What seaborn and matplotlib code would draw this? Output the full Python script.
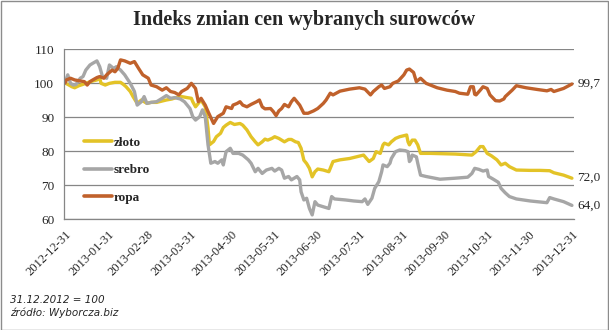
import matplotlib
matplotlib.use("Agg")
import matplotlib.pyplot as plt
import matplotlib.patches as mpatches
import numpy as np
import pandas as pd
import seaborn as sns

# Index of commodity prices, 31.12.2012 = 100 (days counted from that date)
base_date = "2012-12-31"

zloto_days = [0, 2, 5, 7, 10, 13, 17, 20, 23, 25, 26, 29, 32, 36, 40, 42, 44, 47, 49, 52,
              55, 59, 62, 66, 70, 73, 77, 80, 84, 88, 91, 92, 94, 96, 98, 101, 103, 104, 107, 109,
              112, 114, 116, 119, 122, 126, 128, 131, 134, 137, 139, 142, 144, 146, 149, 151, 154, 156, 158, 161,
              163, 166, 168, 170, 172, 174, 176, 178, 180, 182, 186, 190, 193, 198, 205, 215, 219, 222, 224, 227,
              229, 230, 233, 235, 238, 241, 246, 247, 248, 250, 252, 254, 256, 263, 281, 285, 293, 296, 299, 301,
              304, 307, 311, 314, 317, 320, 325, 335, 342, 349, 352, 359, 365]
zloto_vals = [100.0, 99.6, 98.9, 98.6, 99.2, 99.6, 100.2, 100.6, 100.9, 101.4, 99.9, 99.4, 99.9, 100.2, 100.2, 99.6, 98.9, 97.5, 96.0, 94.0,
              95.0, 94.0, 94.3, 94.3, 94.7, 95.0, 95.3, 95.7, 96.0, 95.7, 95.5, 94.5, 93.0, 94.0, 95.0, 93.0, 86.7, 81.8, 82.8, 84.2,
              85.2, 86.9, 87.6, 88.4, 87.8, 88.1, 87.6, 86.2, 84.2, 82.7, 81.8, 82.7, 83.5, 83.2, 83.7, 84.2, 83.7, 83.2, 82.7, 83.4,
              83.4, 82.7, 82.5, 80.8, 77.3, 76.3, 74.9, 72.4, 73.9, 74.7, 74.4, 73.9, 76.9, 77.4, 77.8, 78.8, 76.9, 77.8, 79.8, 79.3,
              81.8, 82.3, 81.8, 82.7, 83.7, 84.2, 84.7, 82.7, 81.8, 83.2, 83.2, 81.8, 79.3, 79.3, 79.1, 79.0, 78.8, 79.8, 81.3, 81.3,
              79.3, 78.6, 77.4, 75.9, 76.4, 75.4, 74.4, 74.3, 74.3, 74.2, 73.6, 72.9, 72.0]

srebro_days = [0, 2, 4, 6, 8, 11, 13, 15, 18, 20, 23, 25, 27, 30, 32, 35, 37, 40, 43, 47,
               50, 52, 55, 57, 59, 62, 66, 70, 73, 76, 79, 83, 86, 90, 92, 94, 97, 99, 101, 103,
               105, 108, 110, 113, 114, 116, 119, 121, 125, 128, 132, 134, 137, 139, 142, 145, 149, 151, 154, 156,
               158, 161, 163, 167, 169, 170, 172, 174, 176, 178, 180, 182, 186, 190, 192, 194, 202, 208, 214, 216,
               218, 221, 223, 226, 228, 229, 232, 234, 235, 238, 241, 245, 247, 248, 249, 250, 253, 254, 256, 260,
               270, 281, 290, 293, 295, 298, 301, 304, 305, 308, 312, 314, 317, 320, 325, 335, 347, 349, 352, 359,
               365]
srebro_vals = [100.0, 102.4, 99.9, 99.4, 99.6, 101.4, 101.9, 103.8, 105.3, 105.8, 106.5, 104.8, 101.9, 101.4, 105.3, 104.3, 104.8, 103.8, 102.4, 99.9,
               97.5, 93.5, 94.5, 96.0, 94.0, 94.3, 94.5, 95.5, 96.3, 95.5, 95.7, 95.3, 94.5, 92.5, 90.1, 89.1, 90.1, 92.1, 90.1, 81.8,
               76.4, 76.9, 76.4, 77.4, 75.9, 79.8, 80.8, 79.3, 79.3, 78.8, 77.4, 76.4, 73.9, 74.9, 73.4, 74.4, 74.9, 74.1, 74.9, 74.4,
               72.0, 72.5, 71.5, 72.5, 71.5, 68.0, 65.6, 66.1, 63.1, 61.2, 65.1, 64.1, 63.6, 63.1, 66.6, 65.9, 65.6, 65.3, 65.1, 65.9,
               64.3, 66.1, 69.0, 71.0, 73.9, 75.9, 75.4, 76.4, 77.8, 79.8, 80.3, 80.1, 79.8, 76.9, 77.4, 78.8, 78.3, 76.4, 72.9, 72.5,
               71.7, 72.0, 72.3, 73.4, 74.9, 74.6, 74.1, 74.4, 72.5, 71.8, 70.8, 69.0, 67.7, 66.6, 65.9, 65.3, 64.8, 66.3, 65.9, 65.1,
               64.0]

ropa_days = [0, 1, 4, 7, 11, 14, 16, 18, 20, 23, 25, 28, 30, 34, 36, 38, 40, 43, 47, 50,
             53, 56, 60, 62, 66, 70, 73, 76, 79, 82, 84, 88, 91, 94, 96, 98, 101, 103, 107, 110,
             114, 116, 120, 121, 124, 126, 128, 131, 134, 138, 140, 142, 144, 148, 150, 152, 154, 156, 158, 161,
             163, 165, 167, 169, 172, 175, 179, 182, 186, 188, 191, 193, 198, 205, 212, 216, 220, 222, 226, 228,
             230, 234, 236, 240, 244, 246, 248, 251, 253, 256, 260, 268, 275, 281, 284, 290, 292, 294, 295, 296,
             299, 301, 304, 306, 310, 313, 316, 317, 322, 325, 332, 340, 347, 350, 352, 359, 365]
ropa_vals = [100.0, 100.9, 101.4, 100.9, 100.6, 100.4, 99.4, 100.4, 100.9, 101.6, 101.9, 101.4, 102.4, 103.8, 103.3, 104.3, 106.8, 106.5, 105.8, 106.3,
             104.3, 102.4, 101.4, 99.4, 98.9, 97.9, 98.6, 97.5, 97.2, 96.5, 97.5, 98.4, 99.9, 98.4, 94.5, 95.5, 93.5, 91.6, 88.1, 90.1,
             91.1, 93.0, 92.5, 93.5, 94.0, 94.5, 93.5, 93.0, 93.7, 94.5, 95.0, 93.0, 92.4, 92.5, 91.6, 90.4, 91.8, 92.5, 93.7, 93.0,
             94.5, 95.5, 94.5, 93.5, 91.1, 91.1, 91.8, 92.5, 94.0, 95.0, 97.0, 96.5, 97.6, 98.2, 98.6, 98.2, 96.5, 97.5, 98.9, 99.4,
             98.4, 98.9, 99.9, 100.6, 102.4, 103.8, 104.1, 103.1, 100.4, 101.4, 99.9, 98.6, 97.9, 97.5, 97.0, 96.7, 98.9, 98.9, 96.7, 96.5,
             97.9, 98.9, 98.4, 96.5, 94.8, 94.7, 95.3, 96.0, 97.9, 99.2, 98.6, 98.1, 97.7, 98.1, 97.5, 98.4, 99.7]

series_names = ["złoto", "srebro", "ropa"]
series_colors = ["#E3C327", "#A6A6A6", "#C0612B"]
tick_labels = ["2012-12-31", "2013-01-31", "2013-02-28", "2013-03-31", "2013-04-30",
               "2013-05-31", "2013-06-30", "2013-07-31", "2013-08-31", "2013-09-30",
               "2013-10-31", "2013-11-30", "2013-12-31"]

start = pd.Timestamp(base_date)
frames = []
for name, days, vals in zip(series_names,
                            [zloto_days, srebro_days, ropa_days],
                            [zloto_vals, srebro_vals, ropa_vals]):
    frames.append(pd.DataFrame({
        "data": start + pd.to_timedelta(days, unit="D"),
        "indeks": vals,
        "surowiec": name,
    }))
df = pd.concat(frames, ignore_index=True)

sns.set_style("white")
serif = ["Liberation Serif", "DejaVu Serif"]
plt.rcParams["font.family"] = serif

fig = plt.figure(figsize=(6.09, 3.30), dpi=100)
ax = fig.add_axes([64 / 609, 1 - 219 / 330, 510 / 609, 170 / 330])

grid_color = "#868686"
ax.set_ylim(60, 110)
ax.set_yticks(np.arange(60, 111, 10))
ax.yaxis.grid(True, color=grid_color, linewidth=0.9)
ax.set_axisbelow(True)

sns.lineplot(data=df, x="data", y="indeks", hue="surowiec",
             hue_order=series_names, palette=series_colors,
             linewidth=2.4, ax=ax, legend=True, sort=False)

tick_dates = pd.to_datetime(tick_labels)
ax.set_xticks(tick_dates)
ax.set_xticklabels(tick_labels, rotation=45, ha="right", rotation_mode="anchor",
                   fontsize=9)
ax.set_xlim(tick_dates[0] - pd.Timedelta(days=0.7), tick_dates[-1] + pd.Timedelta(days=1.5))
ax.tick_params(axis="x", direction="out", length=4, color=grid_color, pad=3)
ax.tick_params(axis="y", direction="out", length=4, color=grid_color, labelsize=9.5, pad=3)
ax.set_xlabel("")
ax.set_ylabel("")

for side in ["top", "right"]:
    ax.spines[side].set_visible(False)
for side in ["left", "bottom"]:
    ax.spines[side].set_color(grid_color)
    ax.spines[side].set_linewidth(0.9)

# End-of-year values next to each line
for days, vals, in [(ropa_days, ropa_vals), (zloto_days, zloto_vals), (srebro_days, srebro_vals)]:
    x_end = start + pd.Timedelta(days=days[-1])
    ax.annotate(f"{vals[-1]:.1f}".replace(".", ","), xy=(x_end, vals[-1]),
                xytext=(4, 0), textcoords="offset points", va="center", ha="left",
                fontsize=9.5, annotation_clip=False)

leg = ax.legend(loc="upper left", bbox_to_anchor=(0.04, 0.485), frameon=False,
                handlelength=2.1, handletextpad=0.15, labelspacing=1.15,
                borderpad=0, borderaxespad=0,
                prop={"family": serif, "weight": "bold", "size": 9.5})
for line in leg.get_lines():
    line.set_linewidth(2.6)

fig.text(0.5, 1 - 20 / 330, "Indeks zmian cen wybranych surowców",
         ha="center", va="center", fontsize=14.5, fontweight="bold", family=serif)
fig.text(10 / 609, 1 - 300 / 330, "31.12.2012 = 100", ha="left", va="center",
         fontsize=7.5, style="italic", family=["DejaVu Sans"])
fig.text(10 / 609, 1 - 313 / 330, "źródło: Wyborcza.biz", ha="left", va="center",
         fontsize=7.5, style="italic", family=["DejaVu Sans"])

fig.patches.append(mpatches.Rectangle((0.5 / 609, 0.5 / 330), 607.5 / 609, 328.5 / 330,
                                      transform=fig.transFigure, fill=False,
                                      edgecolor="#8C8C8C", linewidth=1.0))

fig.savefig("out.png", dpi=100, facecolor="white")
